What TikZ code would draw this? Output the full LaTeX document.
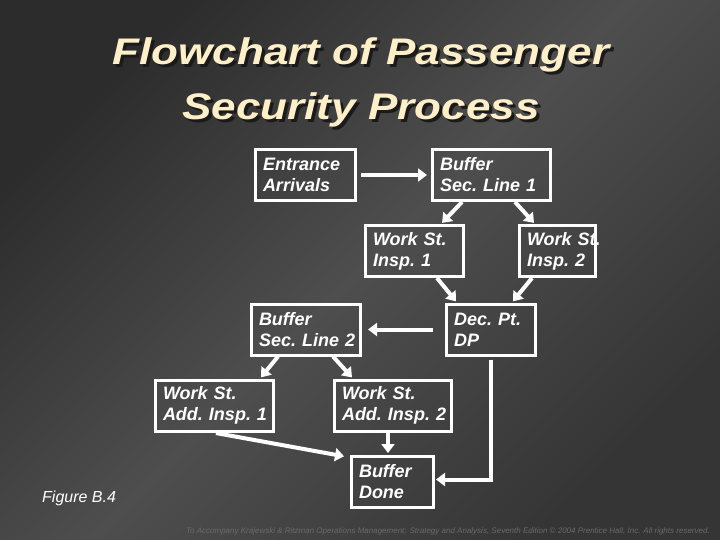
\documentclass[tikz,border=0pt]{standalone}
\usepackage{fontspec}
\setmainfont{Liberation Sans}
\usetikzlibrary{arrows.meta,calc}
\definecolor{bgdark}{HTML}{2C2C2C}
\definecolor{bgdarkb}{HTML}{353535}
\definecolor{bglight}{HTML}{4E4E4E}
\definecolor{titlecol}{HTML}{FFEFC8}
\definecolor{shadowcol}{HTML}{1A1A1A}
\definecolor{footcol}{HTML}{6A6A6A}
\newcommand{\shadowed}[1]{\makebox[0pt][l]{\hspace{2.5pt}\raisebox{-2.5pt}{\color{shadowcol}#1}}#1}
\begin{document}
\begin{tikzpicture}[x=1pt,y=-1pt,
  box/.style={draw=white, line width=3pt, text=white,
    font=\bfseries\itshape\fontsize{18}{21}\selectfont,
    align=left, inner xsep=7.5pt, inner ysep=0pt, minimum height=51pt},
  arr/.style={draw=white, line width=4pt, -{Triangle[length=9pt,width=13pt]}},
  titletext/.style={text=titlecol, font=\bfseries\itshape\fontsize{37}{44}\selectfont, anchor=base, inner sep=0pt}]
\shade[top color=bgdark, bottom color=bgdarkb, middle color=bglight, shading angle=45] (0,0) rectangle (720,540);
\useasboundingbox (0,0) rectangle (720,540);

% title
\node[titletext] (t1) at (361,65) {\scalebox{1.19}[1]{\shadowed{Flowchart of Passenger}}};
\node[titletext] (t2) at (361,120) {\scalebox{1.19}[1]{\shadowed{Security Process}}};

% boxes
\node[box, text width=85pt] (ent) at (305.5,175) {Entrance\\Arrivals};
\node[box, text width=103pt] (buf1) at (491.5,175) {Buffer\\Sec.~Line~1};
\node[box, text width=83pt] (ins1) at (414.5,251) {Work~St.\\Insp.~1};
\node[box, text width=61pt] (ins2) at (557.5,251) {Work~St.\\Insp.~2};
\node[box, text width=74pt] (dp) at (491,329.5) {Dec.~Pt.\\DP};
\node[box, text width=94pt] (buf2) at (306,329.5) {Buffer\\Sec.~Line~2};
\node[box, text width=103pt] (add1) at (214.5,405.5) {Work~St.\\Add.~Insp.~1};
\node[box, text width=102pt] (add2) at (393,405.5) {Work~St.\\Add.~Insp.~2};
\node[box, text width=67pt] (done) at (392.5,481.5) {Buffer\\Done};

% connectors
\draw[arr, shorten <=4pt, shorten >=4pt] (ent) -- (buf1);
\draw[arr, shorten >=1.5pt] ([xshift=-29.5pt]buf1.south) -- ([xshift=26.5pt]ins1.north);
\draw[arr, shorten >=1.5pt] ([xshift=23.5pt]buf1.south) -- ([xshift=-22.5pt]ins2.north);
\draw[arr, shorten >=1.5pt] ([xshift=22.5pt]ins1.south) -- ([xshift=-34pt]dp.north);
\draw[arr, shorten >=1.5pt] ([xshift=-25.5pt]ins2.south) -- ([xshift=21pt]dp.north);
\draw[arr, shorten <=12pt, shorten >=6pt] (dp) -- (buf2);
\draw[arr, shorten >=1.5pt] ([xshift=-28pt]buf2.south) -- ([xshift=45.5pt]add1.north);
\draw[arr, shorten >=1.5pt] ([xshift=27pt]buf2.south) -- ([xshift=-40pt]add2.north);
\draw[arr, shorten >=1.5pt] ([xshift=-5pt]add2.south) -- ([xshift=-4.5pt]done.north);
\draw[arr, shorten <=3pt, shorten >=1pt] ([xshift=-1.5pt]add1.south) -- ([xshift=-5pt,yshift=-2pt]done.north west);
\draw[arr, shorten <=3pt, shorten >=1pt] (dp.south) |- ([yshift=2pt]done.east);

% labels
\node[text=white, font=\itshape\fontsize{16}{19}\selectfont, anchor=base west, inner sep=0pt] (fig) at (42,502) {Figure B.4};
\node[text=footcol, font=\itshape\fontsize{8}{9}\selectfont, anchor=base east, inner sep=0pt] (foot) at (710,533) {To Accompany Krajewski \& Ritzman Operations Management: Strategy and Analysis, Seventh Edition © 2004 Prentice Hall, Inc. All rights reserved.};
\end{tikzpicture}
\end{document}
